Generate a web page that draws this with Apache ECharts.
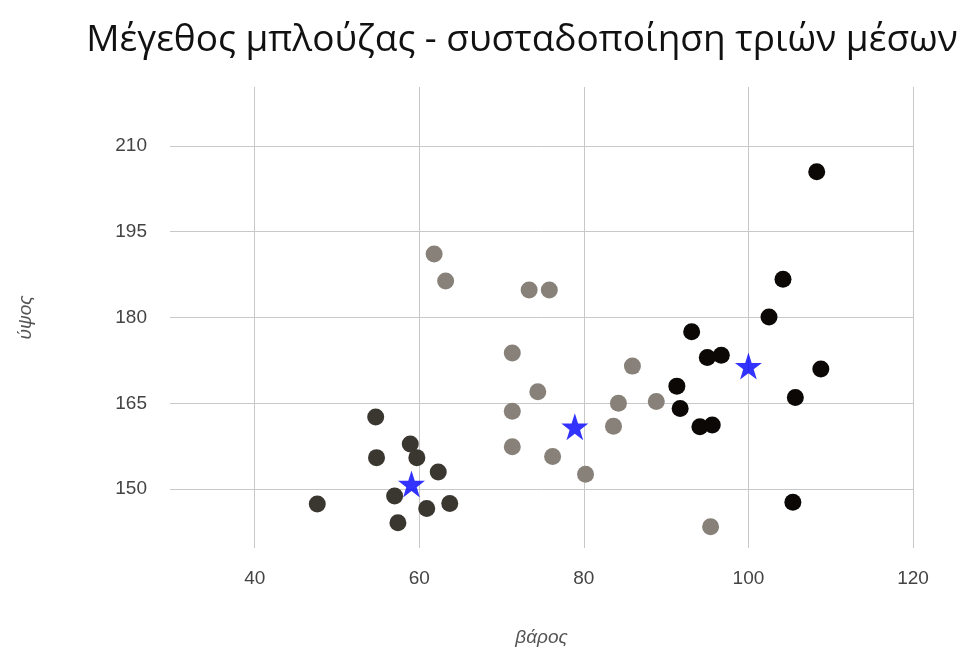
<!DOCTYPE html>
<html>
<head>
<meta charset="utf-8">
<script src="https://cdn.jsdelivr.net/npm/echarts@6/dist/echarts.min.js"></script>
<style>
  html, body { margin: 0; padding: 0; background: #fff; }
  #chart { width: 968px; height: 649px; }
</style>
</head>
<body>
<div id="chart"></div>
<script>
// Cluster members: [βάρος, ύψος]
const clusterA = [
  [54.7, 162.6], [54.8, 155.5], [58.9, 157.9], [59.7, 155.5], [62.3, 153.0],
  [57.0, 148.8], [60.9, 146.6], [63.7, 147.5], [57.4, 144.1], [47.6, 147.4]
];
const clusterB = [
  [61.8, 191.1], [63.2, 186.4], [73.35, 184.8], [75.8, 184.8], [71.3, 173.8],
  [85.9, 171.5], [74.4, 167.0], [71.3, 163.6], [84.2, 165.0], [88.8, 165.3],
  [83.6, 161.0], [71.3, 157.4], [76.2, 155.7], [80.2, 152.6], [95.4, 143.4]
];
const clusterC = [
  [108.3, 205.5], [104.2, 186.7], [102.5, 180.1], [93.1, 177.5], [95.0, 173.0],
  [96.7, 173.4], [108.8, 171.0], [91.3, 168.0], [105.7, 166.0], [91.7, 164.1],
  [94.1, 160.9], [95.6, 161.2], [105.4, 147.7]
];
// Cluster means
const centroids = [[59.05, 150.9], [78.9, 160.9], [100.0, 171.5]];

const xTicks = [40, 60, 80, 100, 120];
const yTicks = [150, 165, 180, 195, 210];

const titleText = 'Μέγεθος μπλούζας - συσταδοποίηση τριών μέσων';
const xName = 'βάρος';
const yName = 'ύψος';

const gridColor = '#c8c8c8';
const labelStyle = { color: '#444', fontFamily: 'Liberation Sans, Arial, sans-serif', fontSize: 19 };
const nameStyle = { color: '#555', fontFamily: 'Liberation Sans, Arial, sans-serif', fontSize: 19, fontStyle: 'italic' };

function dots(data, color) {
  return {
    type: 'scatter',
    data: data,
    symbol: 'circle',
    symbolSize: 17,
    itemStyle: { color: color, opacity: 1 },
    z: 3
  };
}

const chart = echarts.init(document.getElementById('chart'), null, { renderer: 'canvas' });
chart.setOption({
  animation: false,
  backgroundColor: '#ffffff',
  title: {
    text: titleText,
    left: 517,
    top: 17,
    textAlign: 'center',
    textStyle: { fontFamily: 'Open Sans, sans-serif', fontWeight: 'normal', fontSize: 37, color: '#111' }
  },
  grid: { left: 170, right: 55, top: 87, bottom: 101, containLabel: false, outerBoundsMode: 'none' },
  xAxis: {
    type: 'value',
    min: 29.7,
    max: 120,
    name: xName,
    nameLocation: 'middle',
    nameGap: 80,
    nameTextStyle: nameStyle,
    axisLine: { show: false },
    axisTick: { show: false, customValues: xTicks },
    axisLabel: { customValues: xTicks, margin: 21, ...labelStyle },
    splitLine: { show: true, lineStyle: { color: gridColor, width: 1 } }
  },
  yAxis: {
    type: 'value',
    min: 139.7,
    max: 220.3,
    name: yName,
    nameLocation: 'middle',
    nameGap: 135,
    nameRotate: 90,
    nameTextStyle: nameStyle,
    axisLine: { show: false },
    axisTick: { show: false, customValues: yTicks },
    axisLabel: { customValues: yTicks, margin: 23, ...labelStyle },
    splitLine: { show: true, lineStyle: { color: gridColor, width: 1 } }
  },
  series: [
    dots(clusterA, '#3a3731'),
    dots(clusterB, '#878179'),
    dots(clusterC, '#0b0806'),
    {
      type: 'scatter',
      data: centroids,
      symbol: 'path://M50,0 L61.8,35.4 L99,35.4 L69,57.3 L80.4,92.7 L50,70.8 L19.6,92.7 L31,57.3 L1,35.4 L38.2,35.4 Z',
      symbolSize: 27,
      itemStyle: { color: '#0000ff' },
      z: 4
    }
  ]
});
</script>
</body>
</html>
